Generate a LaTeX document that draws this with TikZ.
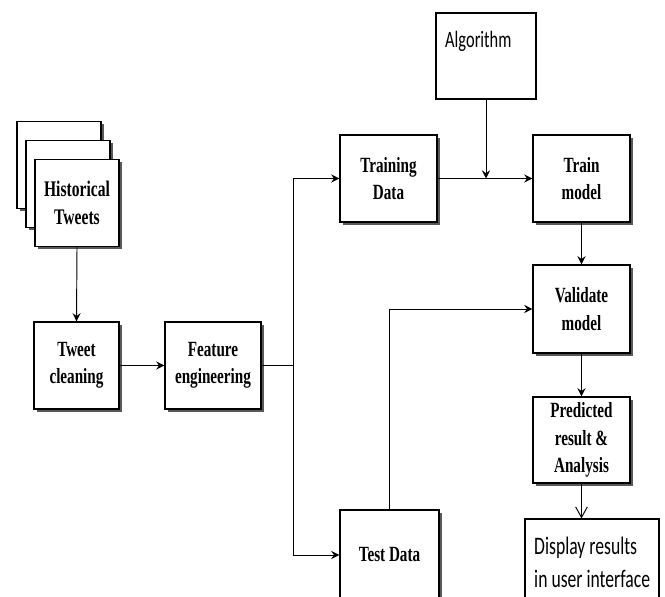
\documentclass[tikz,border=0pt]{standalone}
\usepackage{fontspec}
\usetikzlibrary{arrows.meta,shadows}
\newfontfamily\serifc{Liberation Serif}[FakeStretch=0.7]
\newfontfamily\sansc{Carlito}[FakeStretch=0.7]
\begin{document}
\begin{tikzpicture}[x=0.03cm,y=-0.03cm,
  shbox/.style={draw=black,line width=1.2pt,fill=white,
    minimum width=97*0.03cm,minimum height=87*0.03cm,inner sep=0pt,
    align=center,font=\serifc\bfseries\fontsize{18.5}{23.5}\selectfont,
    drop shadow={shadow xshift=2.5pt,shadow yshift=-2.5pt,fill=black!65,opacity=1}},
  plainbox/.style={draw=black,line width=1pt,fill=white,inner sep=0pt},
  conn/.style={line width=0.8pt,-{Stealth[length=7pt,width=7pt,inset=2.5pt]}},
  line/.style={line width=0.8pt}]
\useasboundingbox (0,0) rectangle (665,597);
\clip (0,0) rectangle (665,597);
% historical tweets stack
\node[shbox,minimum width=84*0.03cm] (h1) at (59,165) {};
\node[shbox,minimum width=84*0.03cm] (h2) at (68,184) {};
\node[shbox,minimum width=84*0.03cm,font=\serifc\bfseries\fontsize{19}{24}\selectfont] (h3) at (77,203) {Historical\\Tweets};
\node[shbox,minimum width=85*0.03cm] (tc) at (76.5,365.5) {Tweet\\cleaning};
\node[shbox,minimum width=96*0.03cm] (fe) at (213,365.5) {Feature\\engineering};
\node[shbox] (trd) at (388.5,178.5) {Training\\Data};
\node[plainbox,minimum width=100*0.03cm,minimum height=86*0.03cm] (alg) at (486,56) {};
\node[anchor=west,inner sep=0pt,font=\sansc\fontsize{20}{23}\selectfont] (algt) at (445,41) {Algorithm};
\node[shbox] (tm) at (581.5,178.5) {Train\\model};
\node[shbox,minimum height=88*0.03cm] (vm) at (581.5,309) {Validate\\model};
\node[shbox,minimum height=86*0.03cm] (pr) at (581.5,440) {Predicted\\result \&\\Analysis};
\node[shbox,minimum width=99*0.03cm,minimum height=90*0.03cm] (ted) at (389.5,555) {Test Data};
\node[plainbox,minimum width=134*0.03cm,minimum height=88*0.03cm] (disp) at (592,563) {};
\node[anchor=north west,inner sep=0pt,align=left,font=\sansc\fontsize{21.5}{28}\selectfont] (dispt) at (534,537) {Display results\\in user interface};
% connectors
\coordinate (jx) at (293,365.5);
\draw[conn] (h3.south) -- (tc.north);
\draw[conn] (tc.east) -- (fe.west);
\draw[line] (fe.east) -- (jx);
\draw[conn] (jx) |- (trd.west);
\draw[conn] (jx) |- (ted.west);
\draw[conn] (trd.east) -- (tm.west);
\draw[conn] (alg.south) -- (alg.south |- trd.east);
\draw[conn] (tm.south) -- (vm.north);
\draw[conn] (ted.north) |- (vm.west);
\draw[conn] (vm.south) -- (pr.north);
\draw[line width=0.8pt,-{Straight Barb[length=9pt,width=10pt,line width=0.8pt]}] (pr.south) -- (pr.south |- disp.north);
\end{tikzpicture}
\end{document}
